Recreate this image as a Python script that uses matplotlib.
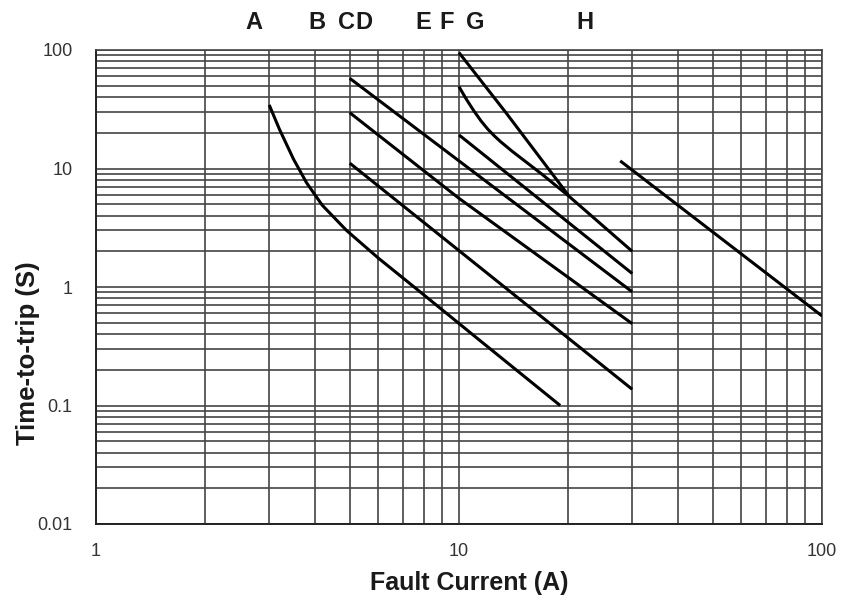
import matplotlib
matplotlib.use('Agg')
import matplotlib.pyplot as plt
from matplotlib.ticker import LogLocator, FixedLocator, FixedFormatter, NullFormatter
import matplotlib.transforms as mtransforms

plt.rcParams['font.family'] = ['Liberation Sans', 'DejaVu Sans']

# ---- data ----
A_I = [3.0, 3.2, 3.5, 3.8, 4.2, 4.9, 6.0, 7.7, 11.4, 19.0]
A_t = [34.4, 21.5, 12.0, 7.6, 4.9, 3.0, 1.75, 0.944, 0.355, 0.10]
B_I = [5.0, 30.0]
B_t = [11.1, 0.137]
C_I = [5.0, 10.0, 30.0]
C_t = [29.6, 5.6, 0.49]
D_I = [5.0, 30.0]
D_t = [57.7, 0.91]
E_I = [10.0, 30.0]
E_t = [19.2, 1.30]
F_I = [10.0, 10.5, 11.0, 11.5, 12.0, 12.5, 13.0, 14.0, 17.0, 20.0, 30.0]
F_t = [49.0, 38.0, 30.5, 25.2, 21.5, 18.9, 16.9, 14.0, 8.85, 5.9, 2.0]
G_I = [10.0, 13.5, 20.0]
G_t = [95.0, 29.3, 5.97]
H_I = [27.8, 100.0]
H_t = [11.6, 0.57]

curve_letters = ['A', 'B', 'C', 'D', 'E', 'F', 'G', 'H']
x_tick_vals = [1, 10, 100]
x_tick_labels = ['1', '10', '100']
y_tick_vals = [0.01, 0.1, 1, 10, 100]
y_tick_labels = ['0.01', '0.1', '1', '10', '100']

# layout positions of the letters (x in data units)
letter_pos = [2.72, 4.06, 4.885, 5.47, 7.95, 9.27, 11.1, 22.3]

W, H = 844, 600
fig = plt.figure(figsize=(W / 100, H / 100), dpi=100)
ax = fig.add_axes([96 / W, 1 - 524 / H, (822 - 96) / W, (524 - 50) / H])
ax.set_xscale('log')
ax.set_yscale('log')
ax.set_xlim(1, 100)
ax.set_ylim(0.01, 100)

grid_col = '#444444'
ax.xaxis.set_major_locator(FixedLocator(x_tick_vals))
ax.xaxis.set_major_formatter(FixedFormatter(x_tick_labels))
ax.yaxis.set_major_locator(FixedLocator(y_tick_vals))
ax.yaxis.set_major_formatter(FixedFormatter(y_tick_labels))
ax.xaxis.set_minor_locator(LogLocator(base=10, subs=range(2, 10)))
ax.yaxis.set_minor_locator(LogLocator(base=10, subs=range(2, 10)))
ax.xaxis.set_minor_formatter(NullFormatter())
ax.yaxis.set_minor_formatter(NullFormatter())
ax.grid(True, which='both', color=grid_col, linewidth=1.2)
ax.set_axisbelow(True)
ax.tick_params(which='both', length=0)
ax.tick_params(axis='y', pad=17, labelsize=13, labelcolor='#333333')
ax.tick_params(axis='x', pad=14, labelsize=13, labelcolor='#333333')
for s in ax.spines.values():
    s.set_color(grid_col)
    s.set_linewidth(1.2)
ax.spines['left'].set_color('#222222')
ax.spines['bottom'].set_color('#222222')
ax.spines['left'].set_linewidth(1.4)
ax.spines['bottom'].set_linewidth(1.4)

for xs, ys in [(A_I, A_t), (B_I, B_t), (C_I, C_t), (D_I, D_t),
               (E_I, E_t), (F_I, F_t), (G_I, G_t), (H_I, H_t)]:
    ax.plot(xs, ys, color='black', linewidth=2.2, solid_capstyle='butt',
            solid_joinstyle='round', zorder=3)

trans = mtransforms.blended_transform_factory(ax.transData, ax.transAxes)
for lab, xp in zip(curve_letters, letter_pos):
    ax.text(xp, (524 - 23) / (524 - 50), lab, transform=trans, ha='center', va='center',
            fontsize=17, fontweight='bold', color='#1a1a1a', clip_on=False)

fig.text(469 / W, 1 - 583 / H, 'Fault Current (A)', ha='center', va='center',
         fontsize=18, fontweight='bold', color='#1a1a1a')
fig.text(28 / W, 1 - 353 / H, 'Time-to-trip (S)', ha='center', va='center',
         rotation=90, fontsize=18.5, fontweight='bold', color='#1a1a1a')

fig.savefig('out.png', dpi=100)
